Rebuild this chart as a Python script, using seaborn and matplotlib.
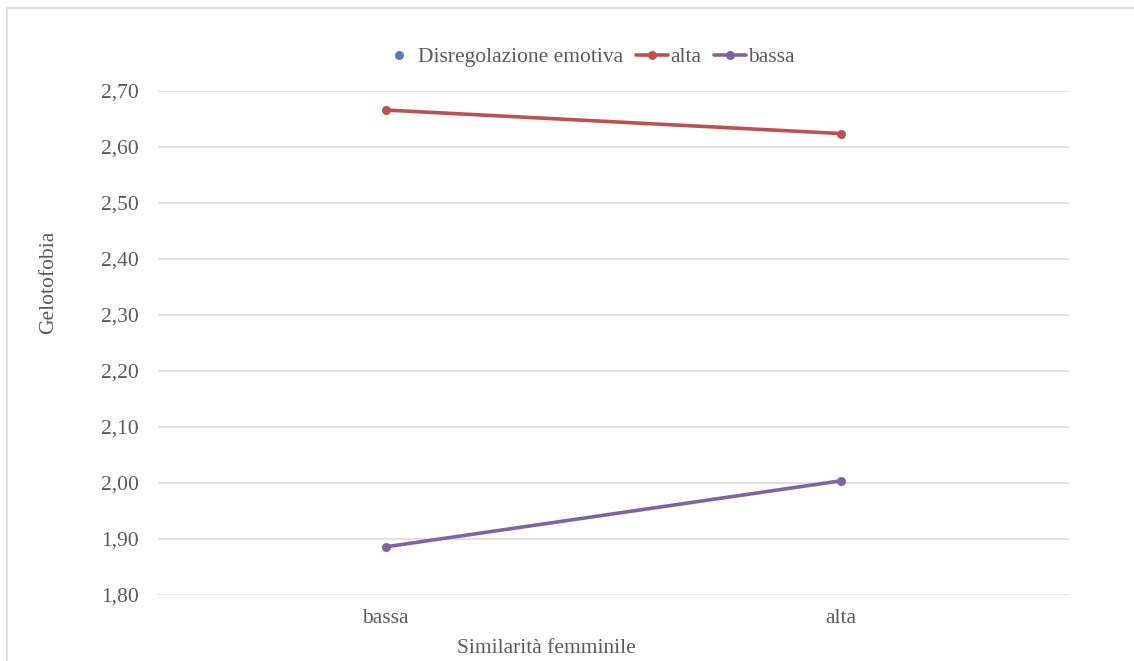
import matplotlib
matplotlib.use("Agg")
import matplotlib.pyplot as plt
from matplotlib.lines import Line2D
from matplotlib.patches import Rectangle
from matplotlib.ticker import FuncFormatter
import seaborn as sns
import pandas as pd

categories = ["bassa", "alta"]
series_names = ["alta", "bassa"]
alta_values = [2.666, 2.624]
bassa_values = [1.886, 2.004]
legend_title = "Disregolazione emotiva"
x_label = "Similarità femminile"
y_label = "Gelotofobia"
y_ticks = [1.80, 1.90, 2.00, 2.10, 2.20, 2.30, 2.40, 2.50, 2.60, 2.70]

colors = {"alta": "#C0504D", "bassa": "#8064A2"}
text_color = "#595959"
grid_color = "#D9D9D9"
fs = 15.5

rows = []
for s, vals in zip(series_names, [alta_values, bassa_values]):
    for c, v in zip(categories, vals):
        rows.append({"Similarità": c, "Serie": s, "Valore": v})
df = pd.DataFrame(rows)

sns.set_theme(style="white")
plt.rcParams["font.family"] = ["Liberation Serif", "DejaVu Serif"]

fig = plt.figure(figsize=(11.34, 6.61), dpi=100)
ax = fig.add_axes([158/1134, 1 - 595/661, (1069-158)/1134, (595-91)/661])

sns.lineplot(data=df, x="Similarità", y="Valore", hue="Serie", palette=colors,
             marker="o", markersize=6.5, markeredgewidth=0, linewidth=2.6,
             sort=False, ax=ax, legend=False)

ax.set_xlim(-0.5, 1.5)
ax.set_ylim(1.80, 2.70)
ax.set_yticks(y_ticks)
ax.yaxis.set_major_formatter(FuncFormatter(lambda v, p: f"{v:.2f}".replace(".", ",")))
ax.grid(axis="y", color=grid_color, linewidth=1.1)
ax.grid(axis="x", visible=False)
ax.set_axisbelow(True)
for sp in ax.spines.values():
    sp.set_visible(False)
ax.tick_params(axis="both", length=0, labelsize=fs, colors=text_color)
ax.tick_params(axis="y", pad=14)
ax.tick_params(axis="x", pad=10)

ax.set_xlabel(x_label, fontsize=fs, color=text_color)
ax.set_ylabel(y_label, fontsize=fs, color=text_color)
ax.xaxis.set_label_coords(0.426, -0.087)
ax.yaxis.set_label_coords(-0.110, 0.621)

handles = [
    Line2D([], [], color="#4F81BD", marker="o", linestyle="none", markersize=6.5, markeredgewidth=0),
    Line2D([], [], color=colors["alta"], marker="o", linewidth=2.6, markersize=6.5, markeredgewidth=0),
    Line2D([], [], color=colors["bassa"], marker="o", linewidth=2.6, markersize=6.5, markeredgewidth=0),
]
labels = [legend_title] + series_names
leg = fig.legend(handles, labels, loc="center", bbox_to_anchor=(589/1134, 1 - 57/661),
                 ncol=3, frameon=False, fontsize=fs, handlelength=1.5,
                 handletextpad=0.1, columnspacing=0.6, labelcolor=text_color)

fig.patches.append(Rectangle((7/1134, -0.05), 1.1, 1 - 8/661 + 0.05, transform=fig.transFigure,
                             fill=False, edgecolor="#D9D9D9", linewidth=1.2))

fig.savefig("out.png", dpi=100, facecolor="white")
